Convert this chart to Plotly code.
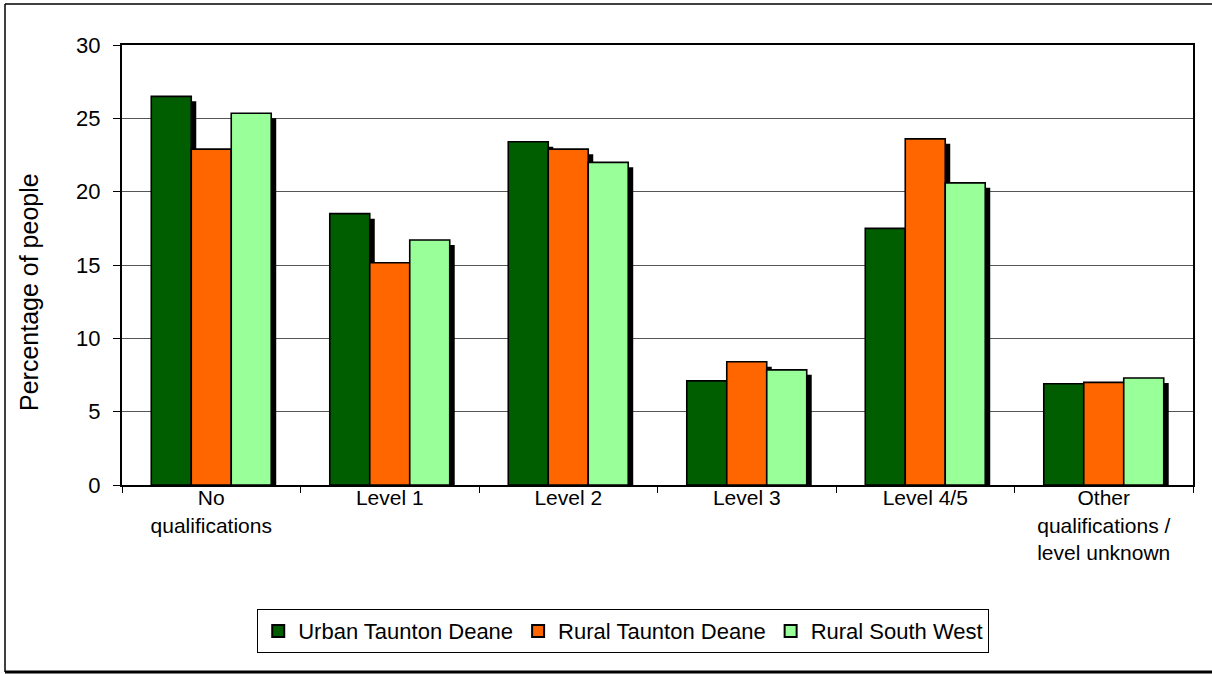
import plotly.graph_objects as go

categories = ["No<br>qualifications", "Level 1", "Level 2", "Level 3", "Level 4/5",
              "Other<br>qualifications /<br>level unknown"]
series_names = ["Urban Taunton Deane", "Rural Taunton Deane", "Rural South West"]
urban_td = [26.5, 18.5, 23.4, 7.1, 17.5, 6.9]
rural_td = [22.9, 15.15, 22.9, 8.4, 23.6, 7.0]
rural_sw = [25.35, 16.7, 22.0, 7.85, 20.6, 7.3]
colors = ["#005E00", "#FF6600", "#99FF99"]
y_ticks = [0, 5, 10, 15, 20, 25, 30]
y_title = "Percentage of people"

W, H = 1212, 674
L, R, T, B = 122, 19, 45, 189
plot_w = W - L - R
plot_h = H - T - B

bar_w = 0.224
start = -1.5 * bar_w
shadow_dx = 5 / (plot_w / len(categories))
shadow_dy = 5 / (plot_h / 30)

fig = go.Figure()
all_vals = [urban_td, rural_td, rural_sw]
# shadows
for i, vals in enumerate(all_vals):
    fig.add_trace(go.Bar(
        x=categories, y=[max(v - shadow_dy, 0) for v in vals],
        width=bar_w, offset=start + i * bar_w + shadow_dx,
        marker=dict(color="black", line=dict(width=0)),
        showlegend=False, hoverinfo="skip"))
# bars
for i, vals in enumerate(all_vals):
    fig.add_trace(go.Bar(
        x=categories, y=vals, name=series_names[i],
        width=bar_w, offset=start + i * bar_w,
        marker=dict(color=colors[i], line=dict(color="black", width=1.6))))

font = "Liberation Sans, Arial, sans-serif"
fig.update_layout(
    width=W, height=H,
    margin=dict(l=L, r=R, t=T, b=B),
    barmode="overlay",
    plot_bgcolor="white", paper_bgcolor="white",
    font=dict(family=font, size=22, color="black"),
    xaxis=dict(
        type="category", tickson="boundaries", ticks="outside", ticklen=6,
        tickcolor="black", tickwidth=1, ticklabelstandoff=-7,
        showline=True, linecolor="black", linewidth=2, mirror=True,
        showgrid=False, tickfont=dict(size=21), range=[-0.5, 5.5]),
    yaxis=dict(
        range=[0, 30], tickvals=y_ticks, ticks="outside", ticklen=7,
        tickcolor="black", showline=True, linecolor="black", linewidth=2,
        ticklabelstandoff=8,
        mirror=True, showgrid=True, gridcolor="#555555", gridwidth=1,
        tickfont=dict(size=22)),
    annotations=[dict(
        text=y_title, textangle=-90, xref="paper", yref="paper",
        x=(29 - L) / plot_w, y=(H - B - 292) / plot_h,
        xanchor="center", yanchor="middle", showarrow=False,
        font=dict(size=25))],
    legend=dict(
        orientation="h", x=0.468, xanchor="center", y=-0.282, yanchor="top",
        bordercolor="black", borderwidth=1, font=dict(size=22),
        itemsizing="constant", tracegroupgap=0, itemwidth=30),
    shapes=[
        dict(type="line", xref="paper", yref="paper",
             x0=(5 - L) / plot_w, x1=(W + 5 - L) / plot_w,
             y0=(H - B - 4) / plot_h, y1=(H - B - 4) / plot_h,
             line=dict(color="black", width=1.5)),
        dict(type="line", xref="paper", yref="paper",
             x0=(5 - L) / plot_w, x1=(5 - L) / plot_w,
             y0=(H - B - 4) / plot_h, y1=(H - B - 672) / plot_h,
             line=dict(color="black", width=1.5)),
        dict(type="line", xref="paper", yref="paper",
             x0=(5 - L) / plot_w, x1=(W + 5 - L) / plot_w,
             y0=(H - B - 672) / plot_h, y1=(H - B - 672) / plot_h,
             line=dict(color="black", width=3)),
    ],
)
fig.write_html("out.html", config={"displayModeBar": False},
               post_script="document.body.style.margin='0';")
